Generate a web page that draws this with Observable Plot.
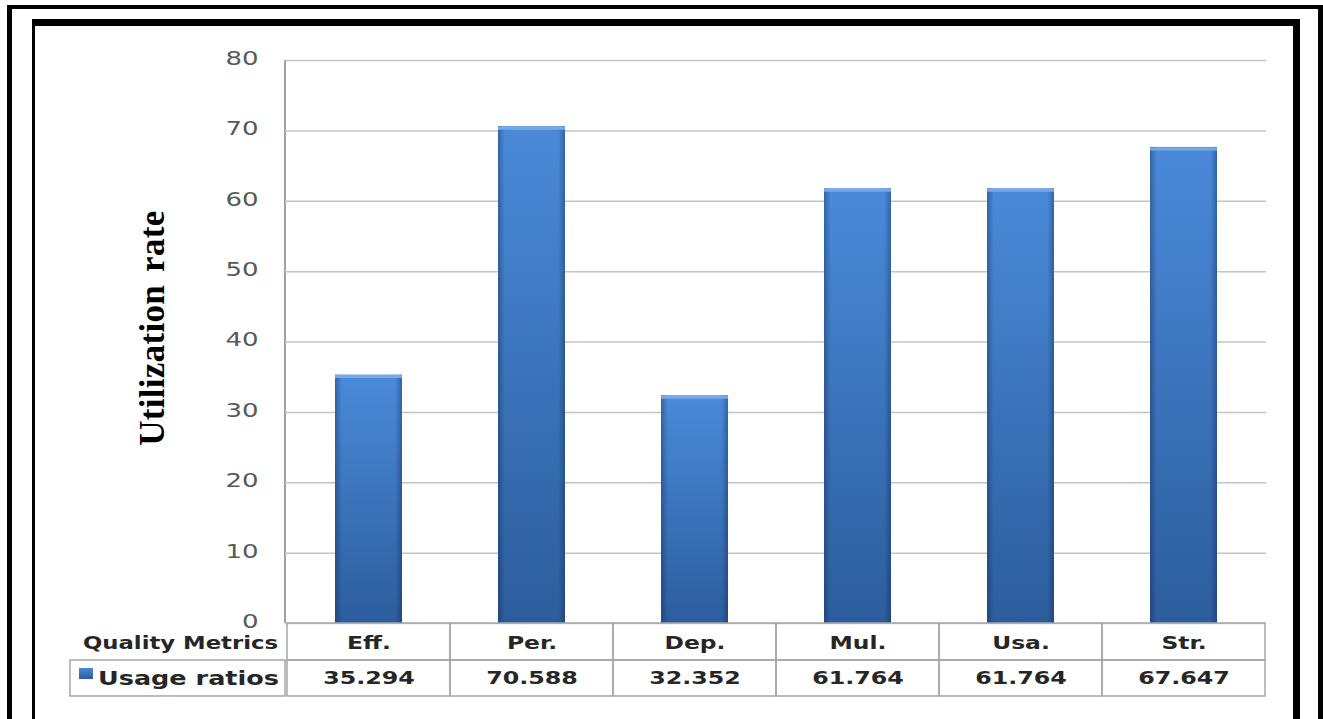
<!DOCTYPE html>
<html><head><meta charset="utf-8">
<script src="https://cdn.jsdelivr.net/npm/d3@7"></script>
<script src="https://cdn.jsdelivr.net/npm/@observablehq/plot@0.6"></script>
<style>
body{margin:0;background:#fff;width:1323px;height:719px;overflow:hidden;position:relative}
#outer{position:absolute;left:7px;top:5px;width:1316px;height:800px;border-left:5px solid #000;border-top:4px solid #000;border-right:5px solid #000;box-sizing:border-box}
#inner{position:absolute;left:32px;top:19px;width:1268px;height:800px;border-left:3px solid #000;border-top:7px solid #000;border-right:7px solid #000;box-sizing:border-box}
#chart{position:absolute;left:0;top:0}
</style>
</head><body>
<div id="outer"></div><div id="inner"></div>
<div id="chart"></div>
<script>
const categories = ["Eff.", "Per.", "Dep.", "Mul.", "Usa.", "Str."];
const values = [35.294, 70.588, 32.352, 61.764, 61.764, 67.647];
const yTicks = [0, 10, 20, 30, 40, 50, 60, 70, 80];
const seriesName = "Usage ratios";
const rowHeader = "Quality Metrics";
const yLabel = "Utilization rate";

const data = categories.map((c, i) => ({cat: c, value: values[i]}));
const fmt = d3.format(".3f");
const row1Y = -2.63, row2Y = -7.8, rowTop = 0, rowMid = -5.26, rowBot = -10.37;
const tableFont = "DejaVu Sans, Verdana, sans-serif";

function decor(index, scales, values, dims) {
  const g = d3.create("svg:g");
  const defs = g.append("defs");
  const lg = defs.append("linearGradient").attr("id", "barGrad").attr("x1", 0).attr("y1", 0).attr("x2", 0).attr("y2", 1);
  lg.append("stop").attr("offset", "0").attr("stop-color", "#4a8ad9");
  lg.append("stop").attr("offset", "1").attr("stop-color", "#2c5d9d");
  const sh = defs.append("linearGradient").attr("id", "barShade").attr("x1", 0).attr("y1", 0).attr("x2", 1).attr("y2", 0);
  sh.append("stop").attr("offset", "0").attr("stop-color", "#0a1e40").attr("stop-opacity", 0.35);
  sh.append("stop").attr("offset", "0.1").attr("stop-color", "#0a1e40").attr("stop-opacity", 0);
  sh.append("stop").attr("offset", "0.9").attr("stop-color", "#0a1e40").attr("stop-opacity", 0);
  sh.append("stop").attr("offset", "1").attr("stop-color", "#0a1e40").attr("stop-opacity", 0.35);
  const left = dims.marginLeft;
  const y0 = scales.y(rowTop), yM = scales.y(rowMid), yB = scales.y(rowBot);
  g.append("line").attr("x1", left).attr("x2", left).attr("y1", scales.y(80)).attr("y2", y0)
    .attr("stroke", "#a0a0a0").attr("stroke-width", 2);
  g.append("rect").attr("x", 70).attr("y", yM).attr("width", left - 70).attr("height", yB - yM)
    .attr("fill", "none").attr("stroke", "#a6a6a6").attr("stroke-width", 1.5);
  g.append("rect").attr("x", 79).attr("y", yM + 8).attr("width", 14).attr("height", 11).attr("fill", "url(#barGrad)");
  g.append("text").attr("x", left - 6).attr("y", scales.y(row2Y)).attr("dy", "0.38em")
    .attr("text-anchor", "end").attr("font-family", tableFont).attr("font-weight", "bold")
    .attr("font-size", 19).attr("textLength", 181).attr("lengthAdjust", "spacingAndGlyphs")
    .attr("fill", "#262626").text(seriesName);
  g.append("text").attr("x", left - 7).attr("y", scales.y(row1Y)).attr("dy", "0.45em")
    .attr("text-anchor", "end").attr("font-family", tableFont).attr("font-weight", "bold")
    .attr("font-size", 17).attr("textLength", 195).attr("lengthAdjust", "spacingAndGlyphs")
    .attr("fill", "#262626").text(rowHeader);
  g.append("text").attr("transform", `translate(164,${scales.y(41.9)}) rotate(-90)`)
    .attr("text-anchor", "middle").attr("font-family", "Liberation Serif, Times New Roman, serif")
    .attr("font-weight", "bold").attr("font-size", 35).attr("letter-spacing", 0.3).attr("word-spacing", 4)
    .attr("fill", "#000").text(yLabel);
  return g.node();
}

const plot = Plot.plot({
  width: 1323, height: 719,
  marginLeft: 285, marginRight: 57, marginTop: 60, marginBottom: 96,
  style: {background: "transparent", overflow: "visible"},
  x: {type: "band", domain: categories, padding: 0, axis: null},
  y: {domain: [0, 80], axis: null},
  marks: [
    decor,
    Plot.gridY(yTicks, {stroke: "#c4c4c4", strokeOpacity: 1, strokeWidth: 1.5}),
    Plot.axisY(yTicks, {tickSize: 0, tickPadding: 27, fontSize: 20, fill: "#595959", label: null, dy: -2,
      fontFamily: "DejaVu Sans, Verdana, sans-serif"}),
    Plot.barY(data, {x: "cat", y: "value", fill: "url(#barGrad)", insetLeft: 48, insetRight: 48}),
    Plot.barY(data, {x: "cat", y: "value", fill: "url(#barShade)", insetLeft: 48, insetRight: 48}),
    Plot.tickY(data, {x: "cat", y: "value", stroke: "#74a9ea", strokeWidth: 3, insetLeft: 48, insetRight: 48, dy: 1.5}),
    Plot.barY(categories, {x: d => d, y1: rowMid, y2: rowTop, fill: "none", stroke: "#a6a6a6", strokeWidth: 1.5}),
    Plot.barY(categories, {x: d => d, y1: rowBot, y2: rowMid, fill: "none", stroke: "#a6a6a6", strokeWidth: 1.5}),
    Plot.text(categories, {x: d => d, y: row1Y, text: d => d, fontSize: 18, fontWeight: "bold", dy: 1,
      fontFamily: tableFont, fill: "#262626"}),
    Plot.text(data, {x: "cat", y: row2Y, text: d => fmt(d.value), fontSize: 18, fontWeight: "bold",
      fontFamily: tableFont, fill: "#262626"})
  ]
});
document.getElementById("chart").append(plot);
// widen glyphs horizontally to match the stretched look of the original
function stretch(nodes, k) {
  nodes.forEach(n => {
    const w = n.getComputedTextLength();
    n.setAttribute("textLength", (w * k).toFixed(1));
    n.setAttribute("lengthAdjust", "spacingAndGlyphs");
  });
}
const sel = d3.select(plot);
stretch(sel.selectAll('g[aria-label="y-axis tick label"] text').nodes(), 1.3);
const textGroups = sel.selectAll('g[aria-label="text"]').nodes();
if (textGroups.length >= 2) {
  stretch(d3.select(textGroups[textGroups.length - 2]).selectAll("text").nodes(), 1.3);
  stretch(d3.select(textGroups[textGroups.length - 1]).selectAll("text").nodes(), 1.32);
}
</script>
</body></html>
